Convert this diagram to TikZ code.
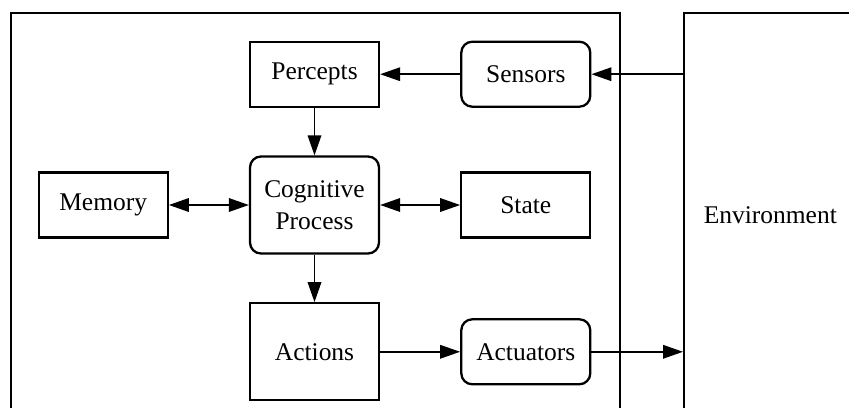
\documentclass[tikz,border=0pt]{standalone}
\usepackage{fontspec}
\setmainfont{Liberation Serif}
\usepackage{tikz}
\usetikzlibrary{arrows.meta, positioning}
\tikzset{
	frame/.style    ={rectangle, draw=black, line width=0.9pt, inner sep=0pt},
	block/.style    ={rectangle, draw=black, line width=1.3pt, minimum width=2.58cm, minimum height=1.3cm, text centered, align=center},
	tall/.style     ={minimum height=1.94cm},
	round/.style    ={rounded corners=0.22cm},
	flowarrow/.style={-{Triangle[length=0.4cm, width=0.27cm]}, line width=1pt},
	botharrow/.style={{Triangle[length=0.4cm, width=0.27cm]}-{Triangle[length=0.4cm, width=0.27cm]}, line width=1pt},
}
\begin{document}
\begin{tikzpicture}[font=\fontsize{14.5pt}{18pt}\selectfont]
	\useasboundingbox (0,0) rectangle (16.98,-8.14);
	% agent and environment frames
	\node[frame, anchor=north west, minimum width=12.18cm, minimum height=8.3cm] (agent) at (0.2,-0.24) {};
	\node[frame, anchor=north west, minimum width=3.8cm, minimum height=8.1cm, text width=3.0cm, inner xsep=0.4cm, align=left] (env) at (13.66,-0.24) {Environment};
	% inside the agent
	\node[block, tall, round] (cog) at (6.29,-4.1) {Cognitive\\Process};
	\node[block, above=0.95cm of cog] (percepts) {Percepts};
	\node[block, tall, below=0.95cm of cog] (actions) {Actions};
	\node[block, left=1.6cm of cog] (memory) {Memory};
	\node[block, right=1.6cm of cog] (state) {State};
	\node[block, round, right=1.6cm of percepts] (sensors) {Sensors};
	\node[block, round, right=1.6cm of actions] (actuators) {Actuators};
	% connectors
	\draw[flowarrow] (env.west |- sensors.east) -- (sensors.east);
	\draw[flowarrow] (sensors) -- (percepts);
	\draw[flowarrow] (percepts) -- (cog);
	\draw[botharrow] (memory) -- (cog);
	\draw[botharrow] (cog) -- (state);
	\draw[flowarrow] (cog) -- (actions);
	\draw[flowarrow] (actions) -- (actuators);
	\draw[flowarrow] (actuators.east) -- (env.west |- actuators.east);
\end{tikzpicture}
\end{document}
